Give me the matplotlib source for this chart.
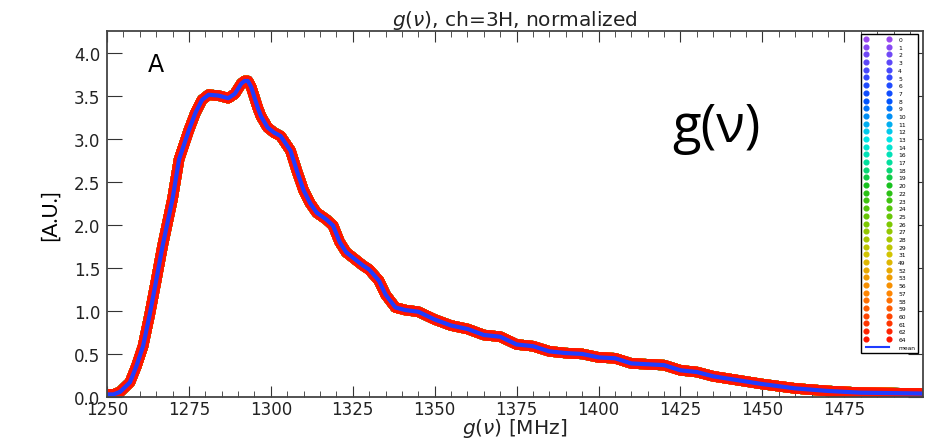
import numpy as np
import matplotlib
matplotlib.use("Agg")
import matplotlib.pyplot as plt
from matplotlib.lines import Line2D
from matplotlib.colors import LinearSegmentedColormap
from matplotlib.ticker import MultipleLocator

# frequency [MHz] and normalized g(nu) (mean over channels)
freq = [1250, 1252, 1254, 1257, 1259, 1261, 1263, 1265, 1267, 1270, 1272, 1275,
        1277, 1279, 1281, 1284, 1287, 1289, 1290, 1291, 1292, 1293, 1294, 1295,
        1296, 1297, 1299, 1301, 1303, 1306, 1308, 1310, 1312, 1314, 1317, 1319,
        1321, 1323, 1325, 1328, 1330, 1333, 1335, 1338, 1341, 1345, 1350, 1355,
        1360, 1365, 1370, 1375, 1380, 1385, 1390, 1395, 1400, 1405, 1410, 1415,
        1420, 1425, 1430, 1435, 1440, 1450, 1460, 1470, 1480, 1490, 1499]
g_mean = [0.03, 0.03, 0.06, 0.17, 0.36, 0.59, 0.95, 1.35, 1.76, 2.30, 2.76, 3.10,
          3.30, 3.45, 3.51, 3.50, 3.47, 3.52, 3.58, 3.64, 3.67, 3.67, 3.60, 3.48,
          3.36, 3.26, 3.13, 3.07, 3.03, 2.86, 2.62, 2.40, 2.25, 2.14, 2.06, 1.99,
          1.80, 1.68, 1.62, 1.53, 1.48, 1.35, 1.19, 1.04, 1.01, 0.99, 0.90, 0.83,
          0.79, 0.72, 0.70, 0.61, 0.59, 0.53, 0.51, 0.50, 0.46, 0.45, 0.39, 0.38,
          0.37, 0.31, 0.29, 0.24, 0.21, 0.15, 0.10, 0.07, 0.05, 0.045, 0.04]

# channels: per-channel curves coincide with the mean at this scale
channels = ["0", "1", "2", "3", "4", "5", "6", "7", "8", "9", "10", "11", "12",
            "13", "14", "16", "17", "18", "19", "20", "22", "23", "24", "25",
            "26", "27", "28", "29", "31", "49", "52", "53", "56", "57", "58",
            "59", "60", "61", "62", "64"]

cmap = LinearSegmentedColormap.from_list("ch", [
    (0.00, "#9a48f0"), (0.13, "#3048ff"), (0.20, "#0050ff"),
    (0.33, "#00e4e8"), (0.41, "#00e0a0"), (0.49, "#18c018"),
    (0.62, "#80c800"), (0.72, "#d4c400"), (0.77, "#e8a800"),
    (0.85, "#ff8400"), (0.92, "#ff4800"), (1.00, "#ff1400")])
colors = cmap(np.linspace(0, 1, len(channels)))

fig = plt.figure(figsize=(9.27, 4.39), dpi=100)
ax = fig.add_axes([0.1154, 0.0934, 0.8803, 0.8337])

handles = []
for ch, c in zip(channels, colors):
    ax.plot(freq, g_mean, color=c, lw=7.5, solid_capstyle="round",
            solid_joinstyle="round")
    handles.append(Line2D([], [], color=c, ls="none", marker="o", ms=3.4,
                          label=ch))
ax.plot(freq, g_mean, color="#1f3cff", lw=3)
handles.append(Line2D([], [], color="#1f3cff", lw=1.5, label="mean"))

ax.set_xlim(1250, 1499)
ax.set_ylim(0, 4.25)
ax.xaxis.set_major_locator(MultipleLocator(25))
ax.xaxis.set_minor_locator(MultipleLocator(5))
ax.yaxis.set_major_locator(MultipleLocator(0.5))
ax.tick_params(which="both", direction="in", top=True, right=True,
               labelsize=12, colors="#333333", labelcolor="#222222")
ax.tick_params(axis="x", which="major", length=8, pad=2)
ax.tick_params(axis="x", which="minor", length=4)
ax.tick_params(axis="y", which="major", length=11, pad=5)
for s in ax.spines.values():
    s.set_color("#444444")
    s.set_linewidth(1.3)

ax.set_title(r"$g(\nu)$, ch=3H, normalized", fontsize=14.5, color="#222222",
             pad=4)
ax.set_xlabel(r"$g(\nu)$ [MHz]", fontsize=14.5, labelpad=-1, color="#222222")
fig.text(0.054, 0.51, "[A.U.]", rotation=90, fontsize=15, va="center",
         ha="center", family=["Lato", "DejaVu Sans"])
ax.text(1262.5, 3.78, "A", fontsize=17)
ax.text(1436, 3.13, "g(ν)", fontsize=38, ha="center", va="center",
        family=["Open Sans", "DejaVu Sans"])

ax.legend(handles=handles, loc="upper right", fontsize=4.3, numpoints=2,
          labelspacing=0.42, handlelength=4.4, handletextpad=1.3,
          borderpad=0.5, framealpha=1, fancybox=False, edgecolor="black",
          bbox_to_anchor=(0.994, 0.992), borderaxespad=0)

fig.savefig("out.png", dpi=100)
